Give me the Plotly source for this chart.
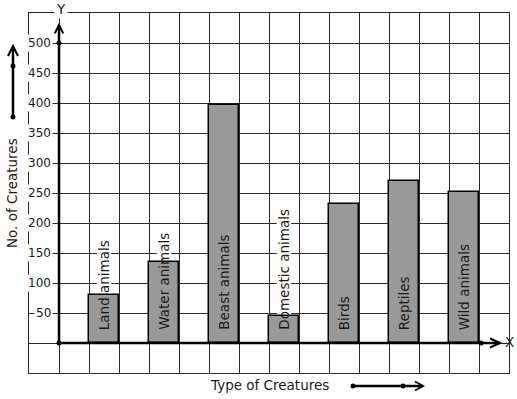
import plotly.graph_objects as go

categories = ["Land animals", "Water animals", "Beast animals", "Domestic animals",
              "Birds", "Reptiles", "Wild animals"]
values = [80, 135, 396, 45, 232, 270, 251]
y_ticks = [50, 100, 150, 200, 250, 300, 350, 400, 450, 500]

W, H = 517, 399
L, R, T, B = 29, 8, 13, 26
PW, PH = W - L - R, H - T - B
FONT = "DejaVu Sans"
INK = "#1a1a1a"

def px(x):
    return (x - L) / PW

def py(y):
    return (H - B - y) / PH

centers = [1.5 + 2 * i for i in range(len(categories))]

fig = go.Figure()
fig.add_trace(go.Bar(
    x=centers, y=values, width=1,
    marker=dict(color="#999999", line=dict(color="#000000", width=1.5)),
    hoverinfo="skip", showlegend=False,
))

shapes = []
annotations = []

# bar labels (rotated), with white background above the bars
label_start = 18
for c, v, name in zip(centers, values, categories):
    text_len = len(name) * 7.5 * 50 / 30
    top = label_start + text_len + 2
    if top > v:
        shapes.append(dict(type="rect", xref="x", yref="y", x0=c - 0.24, x1=c + 0.24,
                           y0=v + 2, y1=top, fillcolor="white", line=dict(width=0),
                           layer="between"))
    annotations.append(dict(x=c, y=label_start, xref="x", yref="y", text=name,
                            textangle=-90, showarrow=False, xanchor="center", yanchor="bottom",
                            font=dict(family=FONT, size=13.5, color=INK)))

# y tick labels
for t in y_ticks:
    annotations.append(dict(x=-0.2, y=t, xref="x", yref="y", text=str(t), showarrow=False,
                            xanchor="right", yanchor="middle", bgcolor="white", borderpad=1,
                            font=dict(family=FONT, size=12, color=INK)))

# thick axes with open arrowheads
axis_line = dict(color="#000000", width=2.5)
shapes.append(dict(type="line", xref="x", yref="y", x0=0, y0=0, x1=0, y1=530, line=axis_line))
shapes.append(dict(type="path", xref="x", yref="y",
                   path="M -0.14,516 L 0,530 L 0.14,516", line=dict(color="#000", width=2)))
shapes.append(dict(type="line", xref="x", yref="y", x0=0, y0=0, x1=14.7, y1=0, line=axis_line))
shapes.append(dict(type="path", xref="x", yref="y",
                   path="M 14.37,7.5 L 14.7,0 L 14.37,-7.5", line=dict(color="#000", width=2)))

def dot(xp, yp, r=2.5):
    return dict(type="circle", xref="paper", yref="paper",
                x0=px(xp - r), x1=px(xp + r), y0=py(yp + r), y1=py(yp - r),
                fillcolor="#000", line=dict(color="#000", width=0))

# dots on axes
shapes.append(dot(59, 343))
shapes.append(dot(59, 43))
shapes.append(dot(481, 343))

annotations.append(dict(x=px(61), y=py(9), xref="paper", yref="paper", text="Y", showarrow=False,
                        xanchor="center", yanchor="middle", bgcolor="white", borderpad=1,
                        font=dict(family=FONT, size=13.5, color=INK)))
annotations.append(dict(x=px(509), y=py(342), xref="paper", yref="paper", text="X", showarrow=False,
                        xanchor="center", yanchor="middle",
                        font=dict(family=FONT, size=13.5, color=INK)))

# left decorative arrow
shapes.append(dict(type="line", xref="paper", yref="paper", x0=px(13), y0=py(117),
                   x1=px(13), y1=py(47), line=dict(color="#000", width=2.5)))
shapes.append(dict(type="path", xref="paper", yref="paper",
                   path=f"M {px(8)},{py(56)} L {px(13)},{py(46)} L {px(18)},{py(56)}",
                   line=dict(color="#000", width=2)))
shapes.append(dot(13, 66))
shapes.append(dot(13, 117))

# bottom decorative arrow
shapes.append(dict(type="line", xref="paper", yref="paper", x0=px(353), y0=py(386),
                   x1=px(422), y1=py(386), line=dict(color="#000", width=2.5)))
shapes.append(dict(type="path", xref="paper", yref="paper",
                   path=f"M {px(415)},{py(381.5)} L {px(423)},{py(386)} L {px(415)},{py(390.5)}",
                   line=dict(color="#000", width=2)))
shapes.append(dot(353, 386))
shapes.append(dot(403, 386))

# axis titles
annotations.append(dict(x=px(12), y=py(193), xref="paper", yref="paper", text="No. of Creatures",
                        textangle=-90, showarrow=False, xanchor="center", yanchor="middle",
                        font=dict(family=FONT, size=13.5, color=INK)))
annotations.append(dict(x=px(269), y=py(385), xref="paper", yref="paper", text="Type of Creatures",
                        showarrow=False, xanchor="center", yanchor="middle",
                        font=dict(family=FONT, size=13.5, color=INK)))

grid_color = "#2a2a2a"
fig.update_layout(
    width=W, height=H,
    margin=dict(l=L, r=R, t=T, b=B, pad=0),
    paper_bgcolor="white", plot_bgcolor="white",
    xaxis=dict(range=[-1, 15], tick0=-1, dtick=1, showgrid=True, gridcolor=grid_color, gridwidth=1,
               showticklabels=False, ticks="", zeroline=False, showline=True, mirror=True,
               linecolor=grid_color, linewidth=1, fixedrange=True),
    yaxis=dict(range=[-50, 550], tick0=-50, dtick=50, showgrid=True, gridcolor=grid_color, gridwidth=1,
               showticklabels=False, ticks="", zeroline=False, showline=True, mirror=True,
               linecolor=grid_color, linewidth=1, fixedrange=True),
    shapes=shapes, annotations=annotations,
    bargap=0, showlegend=False,
)

fig.write_html("out.html", config={"displayModeBar": False},
               post_script="document.body.style.margin='0';document.body.style.overflow='hidden';")
